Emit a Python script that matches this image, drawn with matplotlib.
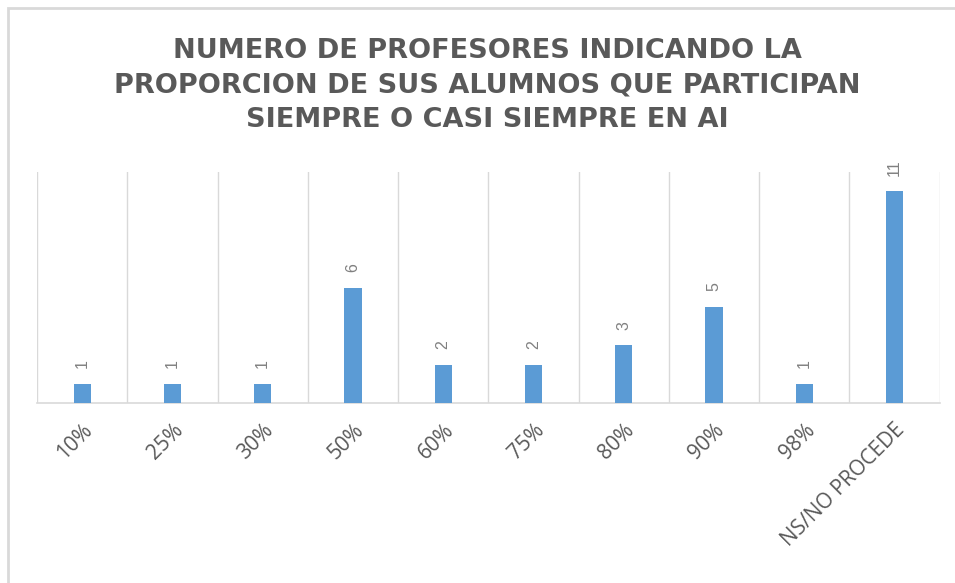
import numpy as np
import matplotlib.pyplot as plt
from matplotlib.patches import Rectangle

categories = ["10%", "25%", "30%", "50%", "60%", "75%", "80%", "90%", "98%", "NS/NO PROCEDE"]
values = [1, 1, 1, 6, 2, 2, 3, 5, 1, 11]

title = "NUMERO DE PROFESORES INDICANDO LA\nPROPORCION DE SUS ALUMNOS QUE PARTICIPAN\nSIEMPRE O CASI SIEMPRE EN AI"

bar_color = "#5B9BD5"
text_color = "#595959"
grid_color = "#D9D9D9"

fig = plt.figure(figsize=(9.55, 5.83), dpi=100)
ax = fig.add_axes([0.0387, 0.3087, 0.9453, 0.3963])

# chart border (cropped on right / bottom)
fig.patches.append(Rectangle((8 / 955, -0.1), 1.2, 1 - 8 / 583 + 0.1,
                             transform=fig.transFigure, fill=False,
                             edgecolor="#D9D9D9", linewidth=2))

x = np.arange(len(categories))
bars = ax.bar(x, values, width=0.19, color=bar_color, zorder=3)

for xi, v in zip(x, values):
    ax.annotate(str(v), (xi, v), xytext=(0, 11), textcoords="offset points",
                rotation=90, ha="center", va="bottom", fontsize=11.5,
                color="#808080", family="Liberation Sans")

ax.set_xlim(-0.5, len(categories) - 0.5)
ax.set_ylim(0, 12)
for b in np.arange(-0.5, len(categories), 1.0):
    ax.axvline(b, color=grid_color, linewidth=1, zorder=1)

ax.set_yticks([])
for s in ["top", "right", "left"]:
    ax.spines[s].set_visible(False)
ax.spines["bottom"].set_color(grid_color)
ax.spines["bottom"].set_linewidth(1.2)

ax.set_xticks(x)
ax.set_xticklabels(categories, rotation=45, ha="right", rotation_mode="anchor",
                   fontsize=15, color=text_color, family="Open Sans")
ax.tick_params(axis="x", length=0, pad=12)

fig.text(0.51, 0.935, title, ha="center", va="top", fontsize=19.5,
         fontweight="bold", color=text_color, family="DejaVu Sans",
         linespacing=1.42)

fig.savefig("out.png", dpi=100)
